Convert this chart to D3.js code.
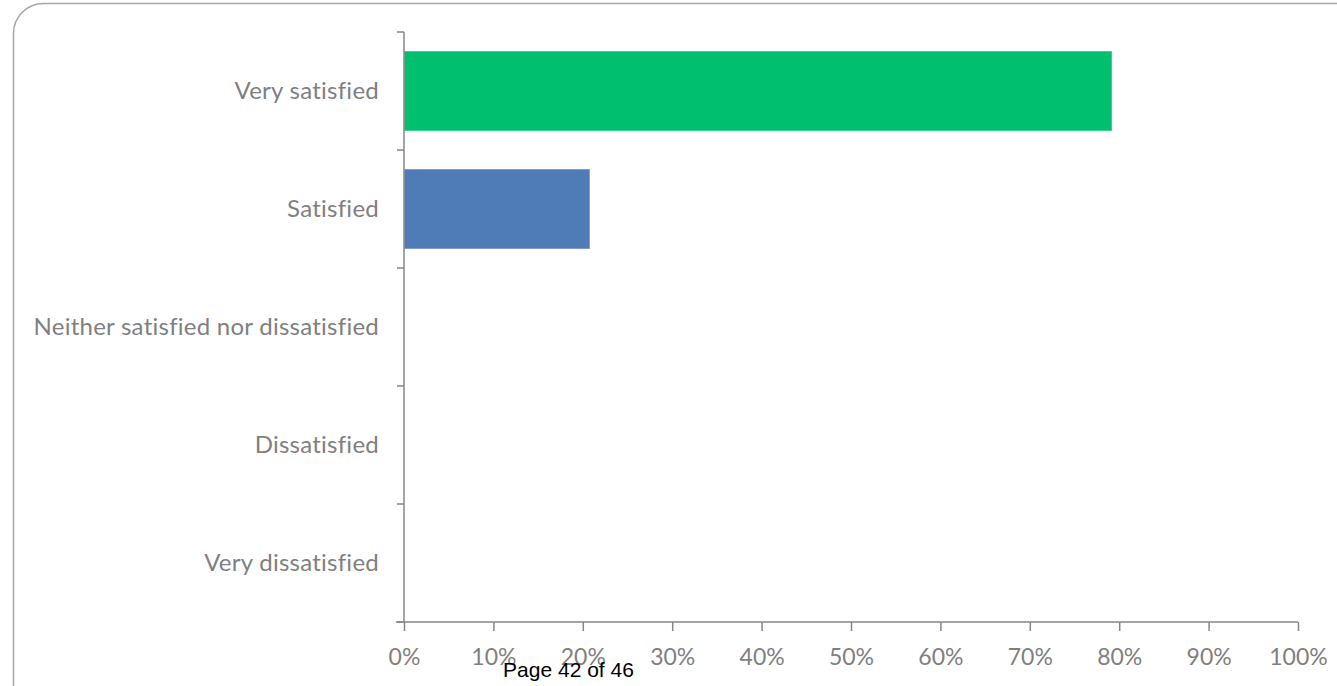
<!DOCTYPE html>
<html><head><meta charset="utf-8">
<script src="https://cdn.jsdelivr.net/npm/d3@7"></script>
<style>html,body{margin:0;padding:0;background:#fff;overflow:hidden;}</style>
</head><body>
<svg id="c" width="1337" height="686"></svg>
<script>
const categories = ["Very satisfied","Satisfied","Neither satisfied nor dissatisfied","Dissatisfied","Very dissatisfied"];
const values = [79.2, 20.8, 0, 0, 0];
const barColors = ["#00BF6F","#4F7CB6","#4F7CB6","#4F7CB6","#4F7CB6"];
const xTicks = [0,10,20,30,40,50,60,70,80,90,100];

const svg = d3.select("#c");
// rounded frame
svg.append("rect").attr("x",13.5).attr("y",3.5).attr("width",1360).attr("height",720)
  .attr("rx",30).attr("ry",30).attr("fill","none").attr("stroke","#a6a6a6").attr("stroke-width",1.5);

const x = d3.scaleLinear().domain([0,100]).range([404,1298]);
const y = d3.scaleBand().domain(categories).range([32,622]).paddingInner(0.322).paddingOuter(0.161);

svg.selectAll("rect.bar").data(categories).enter().append("rect")
  .attr("class","bar")
  .attr("x",x(0)).attr("y",d=>y(d))
  .attr("width",(d,i)=>x(values[i])-x(0))
  .attr("height",y.bandwidth())
  .attr("fill",(d,i)=>barColors[i])
  .attr("stroke",(d,i)=>values[i]>0?"#ffffff":"none").attr("stroke-opacity",0.5).attr("stroke-width",1);

const axisColor = "#868686";
// y axis
const yAxisG = svg.append("g").attr("transform","translate(404,0)");
yAxisG.append("line").attr("x1",0).attr("x2",0).attr("y1",32).attr("y2",622).attr("stroke",axisColor).attr("stroke-width",1.5);
const yEdges = categories.map(c=>y(c)-y.step()*y.paddingInner()/2).concat([622]);
yAxisG.selectAll("line.t").data(yEdges).enter().append("line").attr("class","t")
  .attr("x1",-7).attr("x2",0).attr("y1",d=>d).attr("y2",d=>d).attr("stroke",axisColor).attr("stroke-width",1.5);
svg.selectAll("text.cat").data(categories).enter().append("text").attr("class","cat")
  .attr("x",379).attr("y",d=>y(d)+y.bandwidth()/2).attr("dy","0.35em")
  .attr("text-anchor","end").attr("fill","#7f7f7f")
  .style("font-family","Lato, 'Open Sans', sans-serif").style("font-size","24px").style("letter-spacing","0.25px")
  .text(d=>d);

// x axis
const xAxis = d3.axisBottom(x).tickValues(xTicks).tickFormat(d=>d+"%").tickSize(9).tickPadding(18);
const xg = svg.append("g").attr("transform","translate(0,622)").call(xAxis);
xg.select(".domain").attr("stroke",axisColor).attr("stroke-width",1.5).attr("d","M396,0H1298V0");
xg.selectAll(".tick line").attr("stroke",axisColor).attr("stroke-width",1.5);
xg.selectAll(".tick text").attr("fill","#7f7f7f")
  .style("font-family","Lato, 'Open Sans', sans-serif").style("font-size","23px");

svg.append("text").attr("x",568.5).attr("y",677).attr("text-anchor","middle")
  .attr("fill","#000").style("font-family","'Liberation Sans', Arial, sans-serif").style("font-size","21px")
  .text("Page 42 of 46");
</script>
</body></html>
